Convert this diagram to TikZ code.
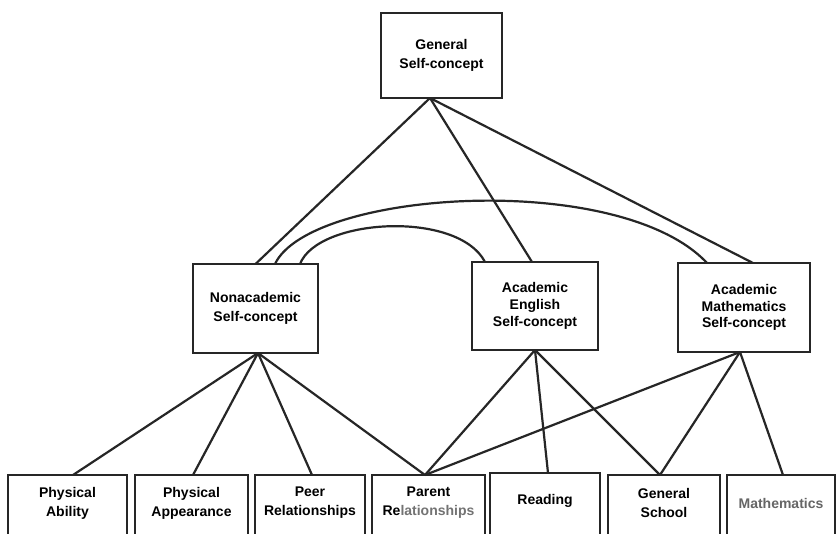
\documentclass[tikz,border=0pt]{standalone}
\usepackage{fontspec}
\setmainfont{Liberation Sans}
\begin{document}
\begin{tikzpicture}[x=1pt,y=-1pt,
  conn/.style={line width=2.2pt, draw=black!85},
  boxline/.style={line width=2.4pt, draw=black!85},
  box/.style={boxline, rectangle, outer sep=0pt, inner sep=0pt, align=center,
    font=\fontsize{14}{19}\selectfont\bfseries},
  bbox/.style={rectangle, outer sep=0pt, inner sep=0pt, align=center,
    minimum height=56, font=\fontsize{14}{19}\selectfont\bfseries}]
\useasboundingbox (0,0) rectangle (838,533);
\clip (0,0) rectangle (838,533);
\fill[white] (0,0) rectangle (838,533);
% upper boxes
\node[box, minimum width=121, minimum height=85] (gen) at (441.5,55.5) {General\\Self-concept};
\node[box, minimum width=125, minimum height=89] (non) at (255.5,308.5) {Nonacademic\\Self-concept};
\node[box, minimum width=126, minimum height=88, font=\fontsize{14}{17}\selectfont\bfseries] (eng) at (535,306) {Academic\\English\\Self-concept};
\node[box, minimum width=132, minimum height=89, font=\fontsize{14}{16.5}\selectfont\bfseries] (math) at (744,307.5) {Academic\\Mathematics\\Self-concept};
% bottom boxes (cut by the lower edge)
\node[bbox, minimum width=119] (pa) at (67.5,503) {Physical\\Ability};
\node[bbox, minimum width=113] (pap) at (191.5,503) {Physical\\Appearance};
\node[bbox, minimum width=110] (peer) at (310,503) {Peer\\Relationships};
\node[bbox, minimum width=113] (par) at (428.5,503) {Parent\\Re\textcolor{black!55}{lationships}};
\node[bbox, minimum width=110] (read) at (545,501) {Reading};
\node[bbox, minimum width=112] (gs) at (664,503) {General\\School};
\node[bbox, minimum width=108, text=black!60] (mat) at (781,503) {Mathematics};
\foreach \n in {pa,pap,peer,par,gs,mat}
  \draw[boxline] ([yshift=-30pt]\n.south west) |- (\n.north east) -- ([yshift=-30pt]\n.south east);
\draw[boxline] ([yshift=-32pt]read.south west) |- (read.north east) -- ([yshift=-32pt]read.south east);
% General to first-order factors
\draw[conn] ([xshift=-11.5pt]gen.south) -- (non.north);
\draw[conn] ([xshift=-11.5pt]gen.south) -- ([xshift=-3pt]eng.north);
\draw[conn] ([xshift=-11.5pt]gen.south) -- ([xshift=9pt]math.north);
% correlations
\draw[conn] ([xshift=19.5pt]non.north) .. controls (310,190) and (620,170) .. ([xshift=-37pt]math.north);
\draw[conn] ([xshift=44.5pt]non.north) .. controls (318,218) and (458,210) .. ([xshift=-50pt]eng.north);
% to bottom
\draw[conn] ([xshift=2.5pt]non.south) -- ([xshift=5.5pt]pa.north);
\draw[conn] ([xshift=2.5pt]non.south) -- ([xshift=1.5pt]pap.north);
\draw[conn] ([xshift=2.5pt]non.south) -- ([xshift=2pt]peer.north);
\draw[conn] ([xshift=2.5pt]non.south) -- ([xshift=-3.5pt]par.north);
\draw[conn] (eng.south) -- ([xshift=-3.5pt]par.north);
\draw[conn] (eng.south) -- ([xshift=3pt]read.north);
\draw[conn] (eng.south) -- ([xshift=-4pt]gs.north);
\draw[conn] ([xshift=-4pt]math.south) -- ([xshift=-3.5pt]par.north);
\draw[conn] ([xshift=-4pt]math.south) -- ([xshift=-4pt]gs.north);
\draw[conn] ([xshift=-4pt]math.south) -- ([xshift=2pt]mat.north);
\end{tikzpicture}
\end{document}
